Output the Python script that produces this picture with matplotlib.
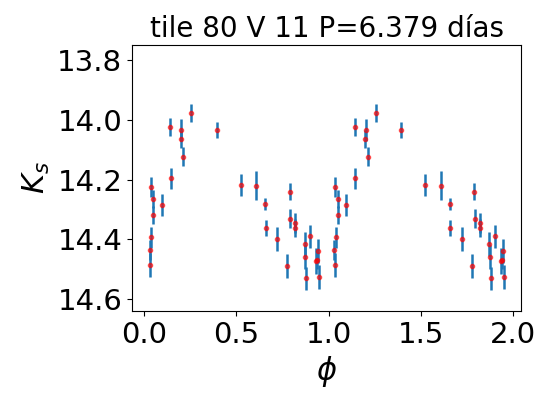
import numpy as np
import matplotlib
matplotlib.use('Agg')
import matplotlib.pyplot as plt

## phase-folded light curve, tile 80 V 11
phase = [0.036, 0.049, 0.049, 0.040, 0.031, 0.033, 0.096, 0.145, 0.141,
         0.202, 0.199, 0.211, 0.256, 0.393, 0.523, 0.608, 0.657, 0.659,
         0.722, 0.774, 0.788, 0.790, 0.819, 0.819, 0.871, 0.873, 0.879,
         0.900, 0.931, 0.937, 0.944, 0.947]
mag = [14.225, 14.266, 14.319, 14.393, 14.436, 14.485, 14.286, 14.196, 14.025,
       14.034, 14.064, 14.124, 13.977, 14.035, 14.218, 14.220, 14.281, 14.361,
       14.398, 14.489, 14.241, 14.331, 14.345, 14.361, 14.415, 14.458, 14.530,
       14.390, 14.471, 14.470, 14.438, 14.526]
err = [0.032, 0.030, 0.030, 0.036, 0.034, 0.040, 0.037, 0.035, 0.031,
       0.036, 0.030, 0.032, 0.030, 0.028, 0.038, 0.048, 0.021, 0.026,
       0.041, 0.039, 0.028, 0.032, 0.032, 0.030, 0.040, 0.040, 0.039,
       0.038, 0.043, 0.030, 0.039, 0.040]

# repeat the cycle
ph = np.concatenate([phase, np.array(phase) + 1])
m = np.concatenate([mag, mag])
e = np.concatenate([err, err])

fig = plt.figure(figsize=(5.39, 3.93), dpi=100)
ax = fig.add_axes([0.245, 0.209, 0.722, 0.676])
ax.errorbar(ph, m, yerr=e, fmt='none', ecolor='tab:blue', elinewidth=1.8)
ax.plot(ph, m, 'r.', alpha=0.6, markersize=6)
ax.invert_yaxis()
ax.set_yticks([13.8, 14.0, 14.2, 14.4, 14.6])
ax.set_xticks([0.0, 0.5, 1.0, 1.5, 2.0])
ax.set_ylim(14.638, 13.752)
ax.tick_params(labelsize=21)
ax.set_xlabel(r'$\phi$', fontsize=22)
ax.set_ylabel(r'$K_s$', fontsize=22)
ax.set_title('tile 80 V 11 P=6.379 días', fontsize=20)

plt.savefig('out.png', dpi=100)
